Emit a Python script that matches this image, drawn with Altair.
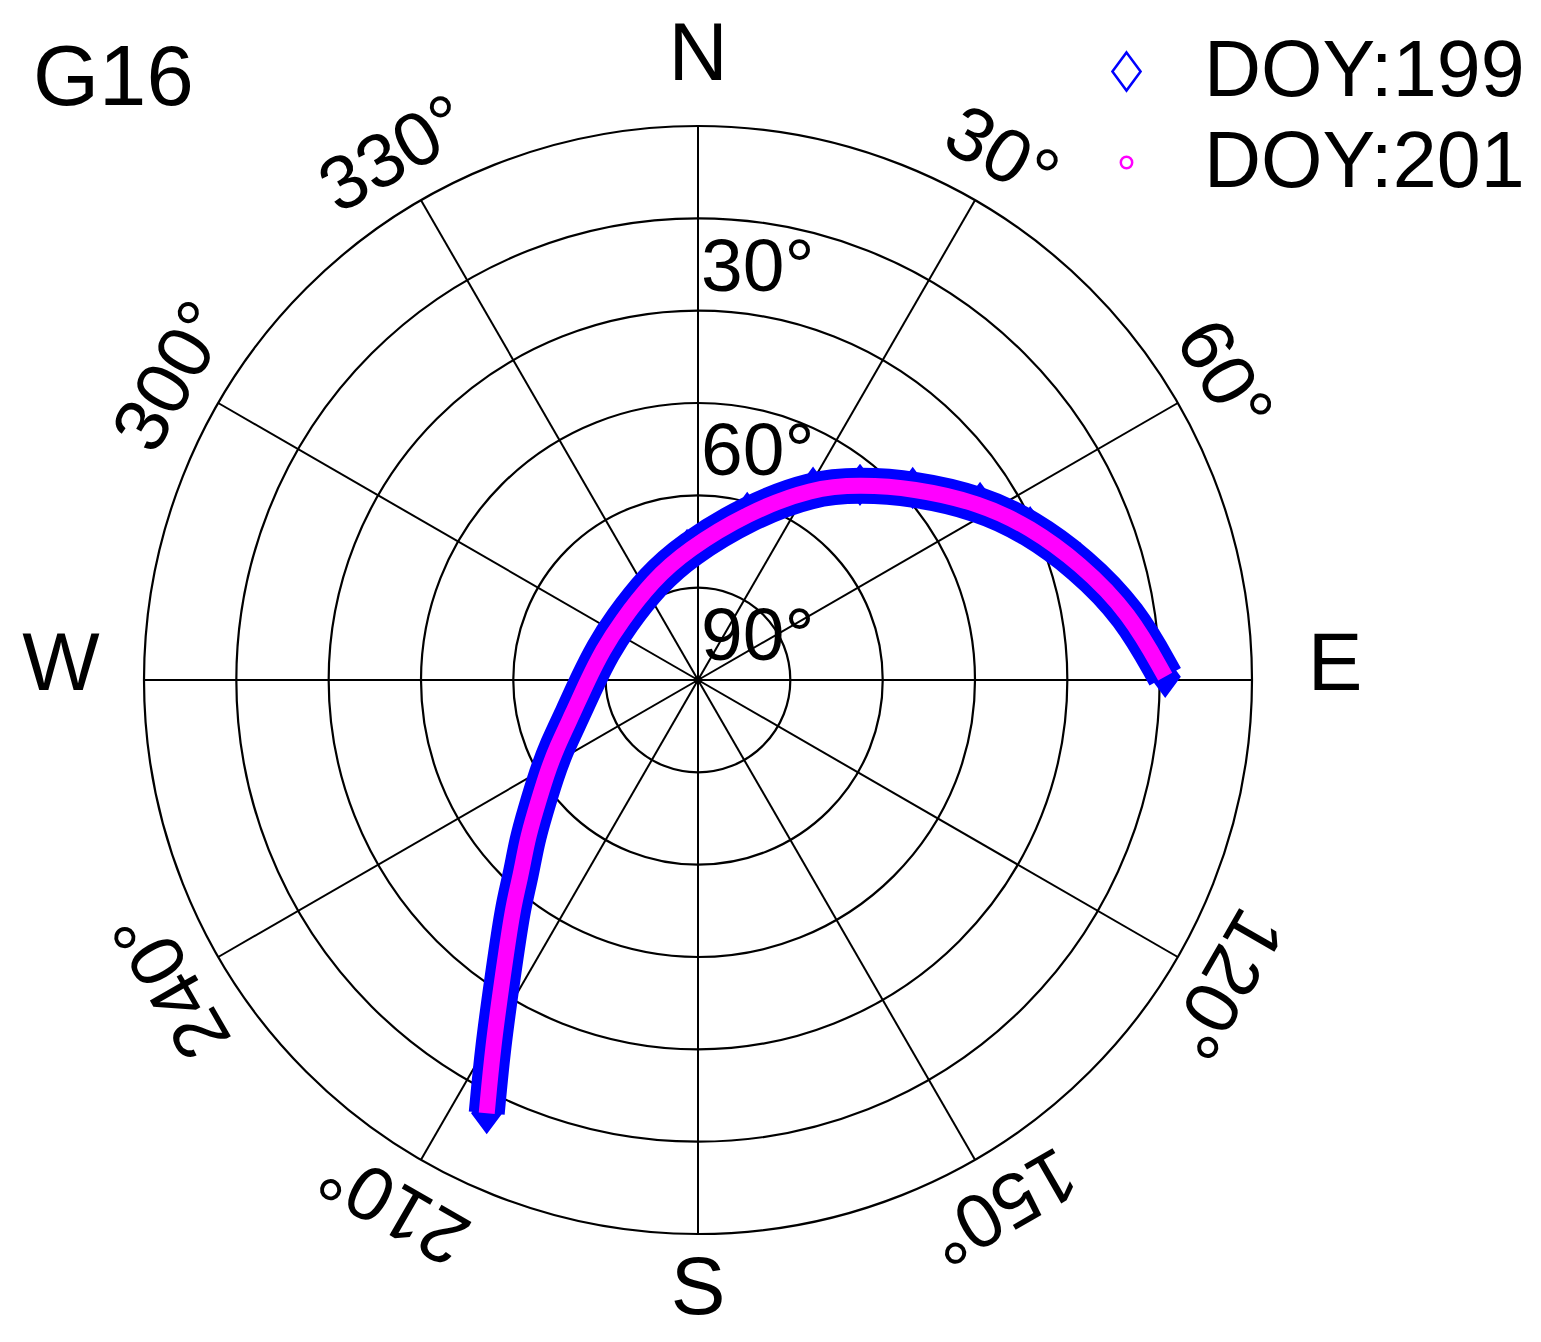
import math
import altair as alt
import pandas as pd

# ---------------- data ----------------
series_names = ["DOY:199", "DOY:201"]
# satellite track (azimuth deg, elevation deg), E -> SW
track_az_199 = [89.6, 81.2, 73.0, 65.3, 57.9, 48.2, 39.7, 30.9, 16.4, 355.2, 335.8,
                306.2, 287.5, 270.0, 255.2, 244.6, 238.4, 230.8, 226.9, 221.7,
                219.2, 213.5, 209.2, 206.0]
track_el_199 = [14.1, 19.0, 25.1, 30.6, 35.9, 43.2, 48.8, 53.6, 61.7, 68.8, 72.2,
                74.3, 73.8, 72.1, 69.0, 64.6, 61.2, 55.8, 52.0, 46.5,
                42.4, 32.6, 21.7, 11.7]
track_az_201 = [89.6, 81.2, 73.0, 65.3, 57.9, 48.2, 39.7, 30.9, 16.4, 355.2, 335.8,
                306.2, 287.5, 270.0, 255.2, 244.6, 238.4, 230.8, 226.9, 221.7,
                219.2, 213.5, 209.2, 206.0]
track_el_201 = [14.1, 19.0, 25.1, 30.6, 35.9, 43.2, 48.8, 53.6, 61.7, 68.8, 72.2,
                74.3, 73.8, 72.1, 69.0, 64.6, 61.2, 55.8, 52.0, 46.5,
                42.4, 32.6, 21.7, 11.7]

ring_zenith = [15, 30, 45, 60, 75, 90]
spoke_az = [0, 30, 60, 90, 120, 150, 180, 210, 240, 270, 300, 330]
az_label_values = [30, 60, 120, 150, 210, 240, 300, 330]
cardinal_names = ["N", "E", "S", "W"]
cardinal_az = [0, 90, 180, 270]
elev_label_values = [30, 60, 90]
title_text = "G16"

# ---------------- layout ----------------
PAD = 5
W, H = 1514, 1314
R_PX = 554.0
K = R_PX / 90.0
CX, CY = 698.0 - 8 - PAD, 680.0 - 8 - PAD
xs = alt.Scale(domain=[-CX / K, (W - CX) / K], nice=False, zero=False)
ys = alt.Scale(domain=[-(H - CY) / K, CY / K], nice=False, zero=False)
FONT = "Liberation Sans"
BLUE = "#0000ff"
MAG = "#ff00ff"
DIAMOND = "M0,-1.15L0.85,0L0,1.15L-0.85,0Z"

rows = []
for name, azs, els in [("DOY:199", track_az_199, track_el_199),
                       ("DOY:201", track_az_201, track_el_201)]:
    for i, (a, e) in enumerate(zip(azs, els)):
        rows.append({"series": name, "idx": i, "az": a, "el": e})
track_df = pd.DataFrame(rows)

polar = dict(
    px="(90 - datum.el) * sin(datum.az * PI / 180)",
    py="(90 - datum.el) * cos(datum.az * PI / 180)",
)

def XY():
    return dict(x=alt.X("px:Q", scale=xs, axis=None),
                y=alt.Y("py:Q", scale=ys, axis=None))

# rings
rings = alt.Chart(pd.DataFrame({"zen": ring_zenith})).transform_calculate(
    c0="0"
).mark_arc(theta=0, theta2=2 * math.pi, fillOpacity=0, stroke="black", strokeWidth=2.2).encode(
    x=alt.X("c0:Q", scale=xs, axis=None),
    y=alt.Y("c0:Q", scale=ys, axis=None),
    radius=alt.Radius("zen:Q", stack=None,
                      scale=alt.Scale(type="linear", domain=[0, 90], range=[0, R_PX], zero=True, nice=False)),
)

# spokes
spokes = alt.Chart(pd.DataFrame({"az": spoke_az})).transform_calculate(
    x0="0", y0="0",
    x1="90 * sin(datum.az * PI / 180)",
    y1="90 * cos(datum.az * PI / 180)",
).mark_rule(color="black", strokeWidth=2).encode(
    x=alt.X("x0:Q", scale=xs, axis=None),
    y=alt.Y("y0:Q", scale=ys, axis=None),
    x2="x1:Q", y2="y1:Q",
)

center_dot = alt.Chart(pd.DataFrame({"zen": [0]})).transform_calculate(
    c0="0"
).mark_point(filled=True, color="black", size=60, opacity=1).encode(
    x=alt.X("c0:Q", scale=xs, axis=None),
    y=alt.Y("c0:Q", scale=ys, axis=None),
)

# track layers
legend = alt.Legend(
    title=None, orient="none", legendX=1079 - PAD, legendY=24 - PAD, padding=0,
    labelFont=FONT, labelFontSize=79, labelColor="black", labelOffset=38,
    labelLimit=0, rowPadding=11, symbolStrokeWidth=2.5,
)
legend_pts = alt.Chart(track_df).transform_calculate(**polar).mark_point(
    filled=False, strokeWidth=2.5, opacity=1
).encode(
    color=alt.Color("series:N", scale=alt.Scale(domain=series_names, range=[BLUE, MAG]), legend=legend),
    shape=alt.Shape("series:N", scale=alt.Scale(domain=series_names, range=[DIAMOND, "circle"]), legend=legend),
    size=alt.Size("series:N", scale=alt.Scale(domain=series_names, range=[1100, 130]), legend=legend),
    **XY(),
)

blue_pts = alt.Chart(track_df).transform_filter(
    alt.datum.series == "DOY:199"
).transform_calculate(**polar).mark_point(
    shape=DIAMOND, filled=True, size=1100, color=BLUE, opacity=1
).encode(**XY())

blue_line = alt.Chart(track_df).transform_filter(
    alt.datum.series == "DOY:199"
).transform_calculate(**polar).mark_line(
    color=BLUE, strokeWidth=36, interpolate="basis"
).encode(order="idx:Q", **XY())

mag_line = alt.Chart(track_df).transform_filter(
    alt.datum.series == "DOY:201"
).transform_calculate(**polar).mark_line(
    color=MAG, strokeWidth=16, interpolate="basis"
).encode(order="idx:Q", **XY())

# azimuth labels
az_labels = alt.Chart(pd.DataFrame({"az": az_label_values})).transform_calculate(
    lab="datum.az + '°'",
    lx="98.4 * sin(datum.az * PI / 180)",
    ly="98.4 * cos(datum.az * PI / 180)",
).mark_text(font=FONT, fontSize=76, align="center", baseline="middle", color="black").encode(
    x=alt.X("lx:Q", scale=xs, axis=None),
    y=alt.Y("ly:Q", scale=ys, axis=None),
    text="lab:N",
    angle=alt.Angle("az:Q", scale=None),
)

card = alt.Chart(pd.DataFrame({"name": cardinal_names, "az": cardinal_az})).transform_calculate(
    rr="datum.az == 0 ? 101.5 : (datum.az == 180 ? 99.0 : 103.5)",
    lx="datum.rr * sin(datum.az * PI / 180)",
    ly="datum.rr * cos(datum.az * PI / 180) + (datum.az % 180 == 90 ? 2.4 : 0)",
).mark_text(font=FONT, fontSize=82, align="center", baseline="middle", color="black").encode(
    x=alt.X("lx:Q", scale=xs, axis=None),
    y=alt.Y("ly:Q", scale=ys, axis=None),
    text="name:N",
)

elev_labels = alt.Chart(pd.DataFrame({"el": elev_label_values})).transform_calculate(
    lab="datum.el + '°'", lx="0", ly="90 - datum.el",
).mark_text(font=FONT, fontSize=75, align="left", baseline="alphabetic", dx=3, dy=-20, color="black").encode(
    x=alt.X("lx:Q", scale=xs, axis=None),
    y=alt.Y("ly:Q", scale=ys, axis=None),
    text="lab:N",
)

title = alt.Chart(pd.DataFrame({"t": [title_text]})).mark_text(
    font=FONT, fontSize=85, align="left", baseline="alphabetic", color="black"
).encode(x=alt.value(33 - 8 - PAD), y=alt.value(105 - 8 - PAD), text="t:N")

chart = alt.layer(
    rings, spokes, center_dot, legend_pts, blue_pts, blue_line, mag_line,
    az_labels, card, elev_labels, title,
).properties(
    width=W, height=H, padding=PAD, autosize=alt.AutoSizeParams(type="none"),
    background="white",
).configure_view(strokeWidth=0)

chart.save("out.html", embed_options={"renderer": "svg", "actions": False})
